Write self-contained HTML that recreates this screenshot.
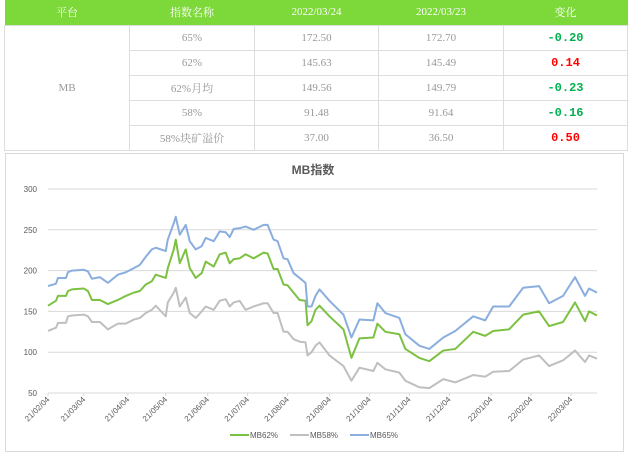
<!DOCTYPE html>
<html><head><meta charset="utf-8">
<style>
*{margin:0;padding:0;box-sizing:border-box}
body{width:630px;height:457px;background:#fff;position:relative;overflow:hidden;font-family:"Liberation Serif","Noto Serif CJK SC",serif}
table{position:absolute;left:4px;top:0;border-collapse:collapse;width:623px;table-layout:fixed}
th{background:#7dd83a;color:#fff;font-weight:normal;font-size:11px;height:25px}
td{border:1px solid #ddd;color:#999;font-size:11px;text-align:center;height:25px}
td.g{color:#00b050;font-family:"Liberation Mono","Noto Sans CJK SC",monospace;font-weight:bold;font-size:12px}
td.r{color:#ff0000;font-family:"Liberation Mono","Noto Sans CJK SC",monospace;font-weight:bold;font-size:12px}
#chart{position:absolute;left:5px;top:153px;width:619px;height:299px;border:1px solid #d9d9d9}
svg{position:absolute;left:0;top:0}
</style></head><body>
<table>
<colgroup><col style="width:125px"><col style="width:125px"><col style="width:124px"><col style="width:125px"><col style="width:124px"></colgroup>
<tr><th>平台</th><th>指数名称</th><th>2022/03/24</th><th>2022/03/23</th><th>变化</th></tr>
<tr><td rowspan="5">MB</td><td>65%</td><td>172.50</td><td>172.70</td><td class="g">-0.20</td></tr>
<tr><td>62%</td><td>145.63</td><td>145.49</td><td class="r">0.14</td></tr>
<tr><td>62%月均</td><td>149.56</td><td>149.79</td><td class="g">-0.23</td></tr>
<tr><td>58%</td><td>91.48</td><td>91.64</td><td class="g">-0.16</td></tr>
<tr><td>58%块矿溢价</td><td>37.00</td><td>36.50</td><td class="r">0.50</td></tr>
</table>
<div id="chart"></div>
<svg id="svg" width="630" height="457" font-family="Liberation Sans, sans-serif"></svg>
<script>
const days=[0,4,5,9,10,12,18,20,22,26,30,35,39,43,46,49,52,54,59,60,63,64,66,69,71,74,77,79,83,86,89,91,93,96,99,103,108,110,113,115,118,120,123,126,129,130,132,134,136,141,148,152,156,163,165,169,176,179,186,191,198,204,213,219,223,231,238,246,251,258,264,269,271,275];
const mb65=[181,184,191,191,198,200,201,199,190,192,185,195,198,203,207,217,226,228,224,238,258,266,244,256,236,226,230,240,236,248,247,241,251,252,254,250,256,256,238,236,215,214,197,191,185,156,156,169,177,163,146,118,140,139,160,148,142,122,108,104,118,126,144,139,156,156,179,181,160,169,192,169,178,173];
const mb62=[157,163,169,169,175,177,178,175,164,164,159,164,169,173,175,183,187,195,191,203,226,238,209,226,203,191,197,211,205,220,222,209,214,215,220,215,222,221,202,202,183,182,173,164,163,133,138,152,157,144,128,93,117,118,135,125,122,104,93,89,102,104,125,120,126,128,146,150,132,137,161,138,150,145];
const mb58=[126,130,136,136,144,145,146,144,137,137,128,135,135,140,142,148,152,157,144,161,173,179,156,167,148,142,150,156,152,163,165,156,161,163,152,156,160,160,148,148,125,125,116,113,112,96,100,108,112,96,83,65,81,77,87,79,75,65,57,56,67,63,72,70,76,77,91,96,83,90,102,88,96,92];
const yTicks=[50,100,150,200,250,300];
const xTickLabels=["21/02/04","21/03/04","21/04/04","21/05/04","21/06/04","21/07/04","21/08/04","21/09/04","21/10/04","21/11/04","21/12/04","22/01/04","22/02/04","22/03/04"];
const xTickDays=[0,18,40,59,80,100,120,141,161,181,201,222,242,262];
const X0=48,X1=597,Y0=393,Y1=189,DMAX=275;
const xs=d=>X0+d*(X1-X0)/DMAX;
const ys=v=>Y0-(v-50)*(Y0-Y1)/250;
const svg=document.getElementById('svg');
const NS='http://www.w3.org/2000/svg';
function mk(t,a){const e=document.createElementNS(NS,t);for(const k in a)e.setAttribute(k,a[k]);svg.appendChild(e);return e;}
yTicks.forEach(v=>{
  const l=mk('line',{x1:X0,x2:X1,y1:ys(v),y2:ys(v),stroke:'#d9d9d9','stroke-width':1});
  
  
  const t=mk('text',{x:37,y:ys(v)+3,'text-anchor':'end','font-size':8,fill:'#595959'});
  t.textContent=v;
  
  
});
xTickDays.forEach((d,i)=>{
  const x=xs(d);
  const tk=mk('line',{x1:x,x2:x,y1:Y0,y2:Y0+3,stroke:'#d9d9d9'});
  
  
  const t=mk('text',{x:x+2,y:Y0+7,'text-anchor':'end','font-size':8,fill:'#595959',transform:`rotate(-45 ${x+2} ${Y0+7})`});
  t.textContent=xTickLabels[i];
  
  
});
function line(arr,color,name){
  const p=mk('polyline',{points:arr.map((v,i)=>xs(days[i])+','+ys(v)).join(' '),fill:'none',stroke:color,'stroke-width':2,'stroke-linejoin':'round'});
  
  
}
line(mb58,'#bfbfbf','line-mb58');
line(mb62,'#7cc142','line-mb62');
line(mb65,'#8aaede','line-mb65');
const title=mk('text',{x:313,y:174,'text-anchor':'middle','font-size':12,'font-weight':'bold',fill:'#595959','font-family':'Liberation Sans, Noto Sans CJK SC, sans-serif'});
title.textContent='MB指数';


[['MB62%','#7cc142',230],['MB58%','#bfbfbf',290],['MB65%','#8aaede',350]].forEach(([n,c,x])=>{
  const l=mk('line',{x1:x,x2:x+19,y1:435,y2:435,stroke:c,'stroke-width':2});
  
  
  const t=mk('text',{x:x+20,y:438,'font-size':8,fill:'#595959'});
  t.textContent=n;
  
  
});
</script>
</body></html>
